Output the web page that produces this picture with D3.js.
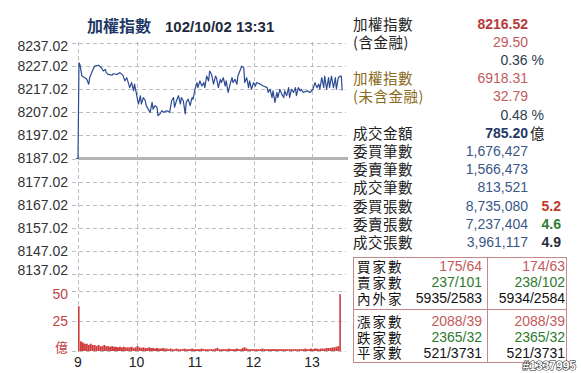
<!DOCTYPE html>
<html>
<head>
<meta charset="utf-8">
<script src="https://cdn.jsdelivr.net/npm/d3@7"></script>
<style>
  body { margin: 0; background: #fff; }
  svg { display: block; }
  text { font-family: "Liberation Sans", Arial, sans-serif; }
  .cjk { font-family: "Noto Sans CJK TC", "Noto Sans CJK JP", sans-serif; }
</style>
</head>
<body>
<svg id="chart" width="581" height="373"></svg>
<script>
// ---- data ----
var prevClose = 8187.02;
var priceTicks = [8237.02, 8227.02, 8217.02, 8207.02, 8197.02, 8187.02, 8177.02, 8167.02, 8157.02, 8147.02, 8137.02];
var volumeTicks = [50, 25];
var hourTicks = [9, 10, 11, 12, 13];

// minutes after 9:00
var priceMinutes = [-2, 0, 1, 2, 4, 7, 9, 11, 12, 14, 17, 21, 24, 26, 28, 29, 31, 35, 36, 40, 43, 46, 48, 50, 52, 53, 55, 57, 58, 60,
  62, 64, 65, 67, 69, 70, 72, 74, 76, 77, 79, 81, 82, 84, 86, 88, 91, 94, 96, 98, 99, 101, 103, 105, 106, 108, 110, 111, 113, 115,
  117, 118, 120, 122, 123, 125, 127, 129, 130, 132, 134, 135, 137, 139, 141, 142, 144, 146, 147, 149, 151, 152, 154, 156, 158, 159,
  161, 163, 164, 166, 168, 170, 171, 173, 175, 176, 178, 180, 182, 183, 187, 190, 194, 195, 197, 199, 200, 202, 204, 205, 207, 209,
  211, 212, 214, 216, 217, 219, 221, 223, 224, 226, 228, 229, 231, 235, 238, 241, 243, 245, 247, 248, 250, 252, 253, 255, 257, 258,
  260, 262, 264, 265, 267, 269, 270, 271];
var priceValues = [8187.02, 8187.02, 8228.4, 8227.7, 8222.7, 8222.0, 8221.3, 8219.2, 8222.0, 8224.2, 8227.0, 8227.4, 8226.3, 8224.9, 8225.6, 8224.2, 8223.4, 8223.1, 8223.7, 8223.4, 8224.2, 8223.1, 8220.6, 8222.0, 8219.2, 8217.7, 8219.9, 8216.3, 8219.2, 8214.9,
  8210.6, 8214.2, 8210.6, 8213.4, 8212.0, 8209.9, 8208.4, 8207.0, 8211.3, 8208.4, 8209.9, 8209.2, 8205.6, 8206.3, 8207.7, 8207.0, 8207.7, 8207.0, 8212.0, 8213.4, 8209.2, 8212.0, 8214.2, 8210.6, 8213.4, 8212.0, 8206.3, 8211.3, 8212.7, 8209.9,
  8213.4, 8212.7, 8217.0, 8219.9, 8217.7, 8220.6, 8218.4, 8219.9, 8217.7, 8222.7, 8220.6, 8224.9, 8223.4, 8219.2, 8222.7, 8222.0, 8217.7, 8221.3, 8219.9, 8222.0, 8218.4, 8220.6, 8215.6, 8219.2, 8222.0, 8219.9,
  8221.3, 8219.2, 8222.7, 8224.9, 8227.0, 8226.3, 8219.9, 8222.0, 8217.7, 8220.6, 8217.0, 8219.9, 8218.4, 8219.9, 8219.2, 8218.4, 8217.7, 8215.6, 8217.0, 8213.4, 8216.3, 8211.3, 8215.6, 8213.4, 8217.0, 8214.9,
  8213.4, 8216.3, 8214.2, 8217.7, 8213.4, 8217.0, 8215.6, 8217.7, 8214.2, 8217.7, 8216.3, 8217.0, 8215.6, 8216.3, 8215.6, 8217.0, 8219.9, 8217.7, 8219.2, 8217.0, 8222.0, 8217.7, 8222.7, 8217.0, 8222.0, 8217.7,
  8222.7, 8217.7, 8222.0, 8217.0, 8222.0, 8222.7, 8222.7, 8216.52];

// volume (億) every 2 minutes from 9:00
var volumeValues = [37, 8, 7, 6, 6, 5, 6, 5, 5, 4, 5, 4, 4, 5, 4, 4, 3.5, 4, 3.5, 3.5, 3, 3.5, 3, 3.5, 3, 3, 3, 3.5, 2.5, 3,
  4, 3, 2.5, 3, 2.5, 2.5, 3, 2.5, 2.5, 2, 2.5, 2, 2, 2.5, 2, 2, 1.5, 2, 1.5, 1.5, 2, 1.5, 1.5, 1.5, 2, 1.5, 1.5, 1.5, 2, 1.5,
  1.5, 1.5, 1.5, 2, 1.5, 1.5, 1.5, 1.5, 1.5, 1.5, 2, 2.5, 1.5, 1.5, 1.5, 1.5, 1.5, 2, 1.5, 1.5, 1.5, 2, 1.5, 1.5, 2.5, 3,
  2, 1.5, 1.5, 1.5, 1.5, 1.5, 1.5, 1.5, 2, 1.5, 1.5, 1.5, 1.5, 1.5, 1.5, 1.5, 1.5, 1.5, 1.5, 1.5, 1.5, 1.5, 1.5, 1.5, 1.5,
  1.5, 1.5, 1.5, 1.5, 1.5, 2, 1.5, 1.5, 2, 1.5, 2, 2, 1.5, 2, 2, 2, 2.5, 2.5, 2.5, 3, 3, 3.5, 4, 47];

var infoLabels = ["加權指數", "(含金融)", "", "加權指數", "(未含金融)", "", "成交金額", "委買筆數", "委賣筆數", "成交筆數", "委買張數", "委賣張數", "成交張數"];
var infoValues = ["8216.52", "29.50", "", "6918.31", "32.79", "", "785.20", "1,676,427", "1,566,473", "813,521", "8,735,080", "7,237,404", "3,961,117"];
var pctValues = ["", "", "0.36 %", "", "", "0.48 %"];
var ratioValues = ["5.2", "4.6", "4.9"];

var tableLabels = ["買家數", "賣家數", "內外家", "漲家數", "跌家數", "平家數"];
var tableLeft = ["175/64", "237/101", "5935/2583", "2088/39", "2365/32", "521/3731"];
var tableRight = ["174/63", "238/102", "5934/2584", "2088/39", "2365/32", "521/3731"];

// ---- drawing ----
var svg = d3.select("#chart");

var x = d3.scaleLinear().domain([0, 270]).range([78, 341.25]);
var y = d3.scaleLinear().domain([8137.02, 8237.02]).range([274, 43]);
var yv = d3.scaleLinear().domain([0, 50]).range([351, 290.5]);

var gridColor = "#bdbdbd";

// horizontal grid (price)
svg.append("g").selectAll("line")
  .data(priceTicks)
  .enter().append("line")
  .attr("x1", 72).attr("x2", 346)
  .attr("y1", function(d) { return Math.round(y(d)) + 0.5; })
  .attr("y2", function(d) { return Math.round(y(d)) + 0.5; })
  .attr("stroke", gridColor).attr("stroke-dasharray", "4,3");

// horizontal grid (volume)
svg.append("g").selectAll("line")
  .data(volumeTicks.concat([0]))
  .enter().append("line")
  .attr("x1", 72).attr("x2", 346)
  .attr("y1", function(d) { return Math.round(yv(d)) + 0.5; })
  .attr("y2", function(d) { return Math.round(yv(d)) + 0.5; })
  .attr("stroke", gridColor).attr("stroke-dasharray", "4,3");

// vertical grid
svg.append("g").selectAll("line")
  .data(hourTicks)
  .enter().append("line")
  .attr("x1", function(d) { return Math.round(x((d - 9) * 60)) + 0.5; })
  .attr("x2", function(d) { return Math.round(x((d - 9) * 60)) + 0.5; })
  .attr("y1", 42).attr("y2", 352)
  .attr("stroke", gridColor).attr("stroke-dasharray", "4,3");

// previous close line
svg.append("line")
  .attr("x1", 78).attr("x2", 348)
  .attr("y1", y(prevClose)).attr("y2", y(prevClose))
  .attr("stroke", "#b4b4b4").attr("stroke-width", 3);

// price line
var line = d3.line()
  .x(function(d, i) { return x(priceMinutes[i]); })
  .y(function(d) { return y(d); });

svg.append("path")
  .datum(priceValues)
  .attr("d", line)
  .attr("fill", "none")
  .attr("stroke", "#2c4a94")
  .attr("stroke-width", 1.2)
  .attr("stroke-linejoin", "round");

// volume bars
var barW = x(2) - x(0);
svg.append("g").selectAll("rect")
  .data(volumeValues)
  .enter().append("rect")
  .attr("x", function(d, i) { return x(i * 2); })
  .attr("width", function(d, i) { return (i === 0 || i === volumeValues.length - 1) ? 1.6 : barW; })
  .attr("y", function(d) { return yv(d); })
  .attr("height", function(d) { return yv(0) - yv(d); })
  .attr("fill", "#d03c3c");

// y axis labels
function clampLabel(v) {
  var p = y(v);
  if (v === priceTicks[0]) p += 3.5;
  if (v === priceTicks[priceTicks.length - 1]) p -= 3.5;
  return p;
}
svg.append("g").selectAll("text")
  .data(priceTicks)
  .enter().append("text")
  .attr("x", 68).attr("y", function(d) { return clampLabel(d); })
  .attr("dy", "0.35em")
  .attr("text-anchor", "end")
  .attr("font-size", 14)
  .attr("fill", "#333")
  .text(function(d) { return d.toFixed(2); });

svg.append("g").selectAll("text")
  .data(volumeTicks)
  .enter().append("text")
  .attr("x", 68).attr("y", function(d) { return yv(d) + (d === 50 ? 3.5 : 0); })
  .attr("dy", "0.35em")
  .attr("text-anchor", "end")
  .attr("font-size", 14)
  .attr("fill", "#c04545")
  .text(function(d) { return d; });

svg.append("text")
  .attr("class", "cjk")
  .attr("x", 68).attr("y", yv(0) - 4)
  .attr("dy", "0.35em")
  .attr("text-anchor", "end")
  .attr("font-size", 13)
  .attr("fill", "#c04545")
  .text("億");

// x axis labels
svg.append("g").selectAll("text")
  .data(hourTicks)
  .enter().append("text")
  .attr("x", function(d) { return x((d - 9) * 60); })
  .attr("y", 367)
  .attr("text-anchor", "middle")
  .attr("font-size", 14)
  .attr("fill", "#222")
  .text(function(d) { return d; });

// title
svg.append("text")
  .attr("class", "cjk")
  .attr("x", 87).attr("y", 32)
  .attr("font-size", 16).attr("font-weight", "bold")
  .attr("fill", "#1f3866")
  .text("加權指數");
svg.append("text")
  .attr("x", 165).attr("y", 32)
  .attr("font-size", 15).attr("font-weight", "bold")
  .attr("fill", "#1e2a3a")
  .text("102/10/02 13:31");

// right info panel
var rowY = function(i) { return 28.5 + i * 18.2; };
var labelColor = function(i) { return (i === 3 || i === 4) ? "#8a6a1c" : "#222"; };
var valueColor = function(i) {
  if (i === 0) return "#b83a3a";
  if (i < 6) return "#c45a5a";
  if (i === 6) return "#1f3866";
  return "#3b5788";
};

svg.append("g").selectAll("text")
  .data(infoLabels)
  .enter().append("text")
  .attr("class", "cjk")
  .attr("x", 353).attr("y", function(d, i) { return rowY(i) + 1; })
  .attr("font-size", 14.5)
  .attr("letter-spacing", 0.5)
  .attr("fill", function(d, i) { return labelColor(i); })
  .text(function(d) { return d; });

svg.append("g").selectAll("text")
  .data(infoValues)
  .enter().append("text")
  .attr("x", 528).attr("y", function(d, i) { return rowY(i); })
  .attr("text-anchor", "end")
  .attr("font-size", 14)
  .attr("font-weight", function(d, i) { return (i === 0 || i === 6) ? "bold" : "normal"; })
  .attr("fill", function(d, i) { return valueColor(i); })
  .text(function(d) { return d; });

svg.append("g").selectAll("text")
  .data(pctValues)
  .enter().append("text")
  .attr("x", 544).attr("y", function(d, i) { return rowY(i); })
  .attr("text-anchor", "end")
  .attr("font-size", 14)
  .attr("fill", "#2c3e50")
  .text(function(d) { return d; });

svg.append("text")
  .attr("class", "cjk")
  .attr("x", 530).attr("y", rowY(6) + 1)
  .attr("font-size", 14.5)
  .attr("fill", "#222")
  .text("億");

var ratioColors = ["#c0392b", "#2e7d32", "#1f2d3d"];
svg.append("g").selectAll("text")
  .data(ratioValues)
  .enter().append("text")
  .attr("x", 561).attr("y", function(d, i) { return rowY(10 + i); })
  .attr("text-anchor", "end")
  .attr("font-size", 14).attr("font-weight", "bold")
  .attr("fill", function(d, i) { return ratioColors[i]; })
  .text(function(d) { return d; });

// table
var border = "#c48a8a";
svg.append("rect")
  .attr("x", 353.5).attr("y", 257.5).attr("width", 213).attr("height", 105)
  .attr("fill", "none").attr("stroke", border);
svg.append("line")
  .attr("x1", 487.5).attr("x2", 487.5).attr("y1", 257.5).attr("y2", 362.5)
  .attr("stroke", border);
svg.append("line")
  .attr("x1", 353.5).attr("x2", 566.5).attr("y1", 309.5).attr("y2", 309.5)
  .attr("stroke", border);

var tableY = [271, 287, 303, 326, 342, 357.5];
var tableColors = ["#c45a5a", "#2f7a2f", "#111", "#c45a5a", "#2f7a2f", "#111"];

svg.append("g").selectAll("text")
  .data(tableLabels)
  .enter().append("text")
  .attr("class", "cjk")
  .attr("x", 357).attr("y", function(d, i) { return tableY[i] + 0.5; })
  .attr("font-size", 13.5)
  .attr("letter-spacing", 2)
  .attr("fill", "#111")
  .text(function(d) { return d; });

svg.append("g").selectAll("text")
  .data(tableLeft)
  .enter().append("text")
  .attr("x", 482).attr("y", function(d, i) { return tableY[i]; })
  .attr("text-anchor", "end")
  .attr("font-size", 14)
  .attr("fill", function(d, i) { return tableColors[i]; })
  .text(function(d) { return d; });

svg.append("g").selectAll("text")
  .data(tableRight)
  .enter().append("text")
  .attr("x", 565).attr("y", function(d, i) { return tableY[i]; })
  .attr("text-anchor", "end")
  .attr("font-size", 14)
  .attr("fill", function(d, i) { return tableColors[i]; })
  .text(function(d) { return d; });

// watermark id
svg.append("text")
  .attr("x", 576).attr("y", 370)
  .attr("text-anchor", "end")
  .attr("font-size", 12).attr("font-weight", "bold")
  .attr("fill", "#fff").attr("stroke", "#111").attr("stroke-width", 1)
  .attr("paint-order", "stroke")
  .text("#1337995");
</script>
</body>
</html>
